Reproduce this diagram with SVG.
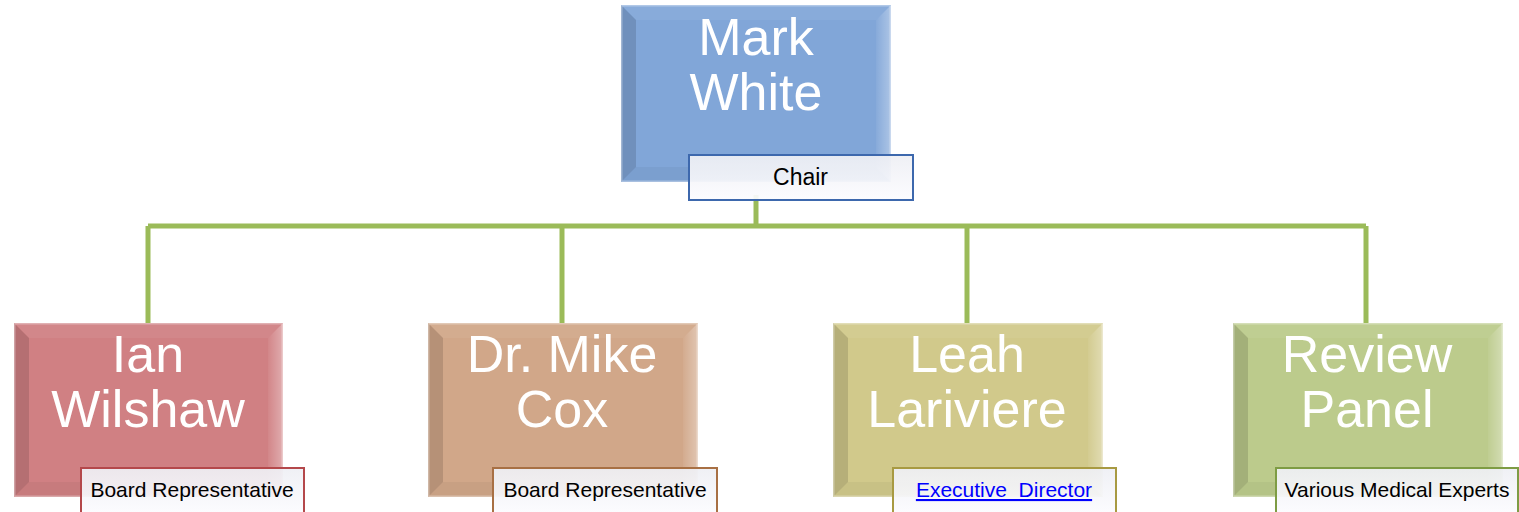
<svg xmlns="http://www.w3.org/2000/svg" width="1519" height="512" viewBox="0 0 1519 512">
<style>
.name{font-family:"Liberation Sans",Arial,sans-serif;font-size:52px;fill:#ffffff;text-anchor:middle}
.lbl{font-family:"Liberation Sans",Arial,sans-serif;font-size:21px;fill:#000000;text-anchor:middle}
.conn{stroke:#9bbb59;stroke-width:5;fill:none}
.bl{fill:#000000;fill-opacity:0.13}
.bt{fill:#ffffff;fill-opacity:0.06}
.br{fill:url(#rg)}
.bb{fill:#000000;fill-opacity:0.04}
.edge{fill:none;stroke:#ffffff;stroke-opacity:0.35;stroke-width:1.5}
.lbox{fill:url(#lg);fill-opacity:0.93;stroke-width:2}
</style>
<defs>
<linearGradient id="rg" x1="0" y1="0" x2="1" y2="0">
<stop offset="0" stop-color="#ffffff" stop-opacity="0.05"/>
<stop offset="1" stop-color="#ffffff" stop-opacity="0.35"/>
</linearGradient>
<linearGradient id="lg" x1="0" y1="0" x2="0" y2="1">
<stop offset="0" stop-color="#eeeff4"/>
<stop offset="1" stop-color="#fcfcff"/>
</linearGradient>
</defs>
<g id="connectors">
<path class="conn" d="M756 195V226"/>
<path class="conn" d="M148 226H1366"/>
<path class="conn" d="M148 226V323M562 226V323M967 226V323M1366 226V323"/>
</g>
<g id="node-mark">
<rect x="621" y="5" width="270" height="177" fill="#81a6d8"/>
<polygon class="bl" points="621,5 636,20 636,167 621,182"/>
<polygon class="bt" points="621,5 891,5 876,20 636,20"/>
<polygon class="br" points="891,5 891,182 876,167 876,20"/>
<polygon class="bb" points="621,182 636,167 876,167 891,182"/>
<rect class="edge" x="621.75" y="5.75" width="268.5" height="175.5"/>
<text class="name" x="756" y="55">Mark</text>
<text class="name" x="756" y="110">White</text>
<rect class="lbox" x="689" y="155" width="224" height="45" stroke="#3d68ad"/>
<text class="lbl" x="800.5" y="185" style="font-size:23px">Chair</text>
</g>
<g id="node-ian">
<rect x="14" y="323" width="269" height="174" fill="#d08083"/>
<polygon class="bl" points="14,323 29,338 29,482 14,497"/>
<polygon class="bt" points="14,323 283,323 268,338 29,338"/>
<polygon class="br" points="283,323 283,497 268,482 268,338"/>
<polygon class="bb" points="14,497 29,482 268,482 283,497"/>
<rect class="edge" x="14.75" y="323.75" width="267.5" height="172.5"/>
<text class="name" x="148" y="372">Ian</text>
<text class="name" x="148" y="427">Wilshaw</text>
<rect class="lbox" x="81" y="468" width="223" height="46" stroke="#b4484b"/>
<text class="lbl" x="192" y="497">Board Representative</text>
</g>
<g id="node-mike">
<rect x="428" y="323" width="270" height="174" fill="#d1a789"/>
<polygon class="bl" points="428,323 443,338 443,482 428,497"/>
<polygon class="bt" points="428,323 698,323 683,338 443,338"/>
<polygon class="br" points="698,323 698,497 683,482 683,338"/>
<polygon class="bb" points="428,497 443,482 683,482 698,497"/>
<rect class="edge" x="428.75" y="323.75" width="268.5" height="172.5"/>
<text class="name" x="562" y="372">Dr. Mike</text>
<text class="name" x="562" y="427">Cox</text>
<rect class="lbox" x="493" y="468" width="224" height="46" stroke="#a87044"/>
<text class="lbl" x="605" y="497">Board Representative</text>
</g>
<g id="node-leah">
<rect x="833" y="323" width="270" height="174" fill="#d1c98b"/>
<polygon class="bl" points="833,323 848,338 848,482 833,497"/>
<polygon class="bt" points="833,323 1103,323 1088,338 848,338"/>
<polygon class="br" points="1103,323 1103,497 1088,482 1088,338"/>
<polygon class="bb" points="833,497 848,482 1088,482 1103,497"/>
<rect class="edge" x="833.75" y="323.75" width="268.5" height="172.5"/>
<text class="name" x="967" y="372">Leah</text>
<text class="name" x="967" y="427">Lariviere</text>
<rect class="lbox" x="893" y="468" width="223" height="46" stroke="#a89a42"/>
<text class="lbl" x="1004" y="497" style="fill:#0000ff;text-decoration:underline" xml:space="preserve">Executive  Director</text>
</g>
<g id="node-review">
<rect x="1233" y="323" width="270" height="174" fill="#bccb8c"/>
<polygon class="bl" points="1233,323 1248,338 1248,482 1233,497"/>
<polygon class="bt" points="1233,323 1503,323 1488,338 1248,338"/>
<polygon class="br" points="1503,323 1503,497 1488,482 1488,338"/>
<polygon class="bb" points="1233,497 1248,482 1488,482 1503,497"/>
<rect class="edge" x="1233.75" y="323.75" width="268.5" height="172.5"/>
<text class="name" x="1367" y="372">Review</text>
<text class="name" x="1367" y="427">Panel</text>
<rect class="lbox" x="1276" y="468" width="242" height="46" stroke="#7e9c44"/>
<text class="lbl" x="1397" y="497">Various Medical Experts</text>
</g>
</svg>
